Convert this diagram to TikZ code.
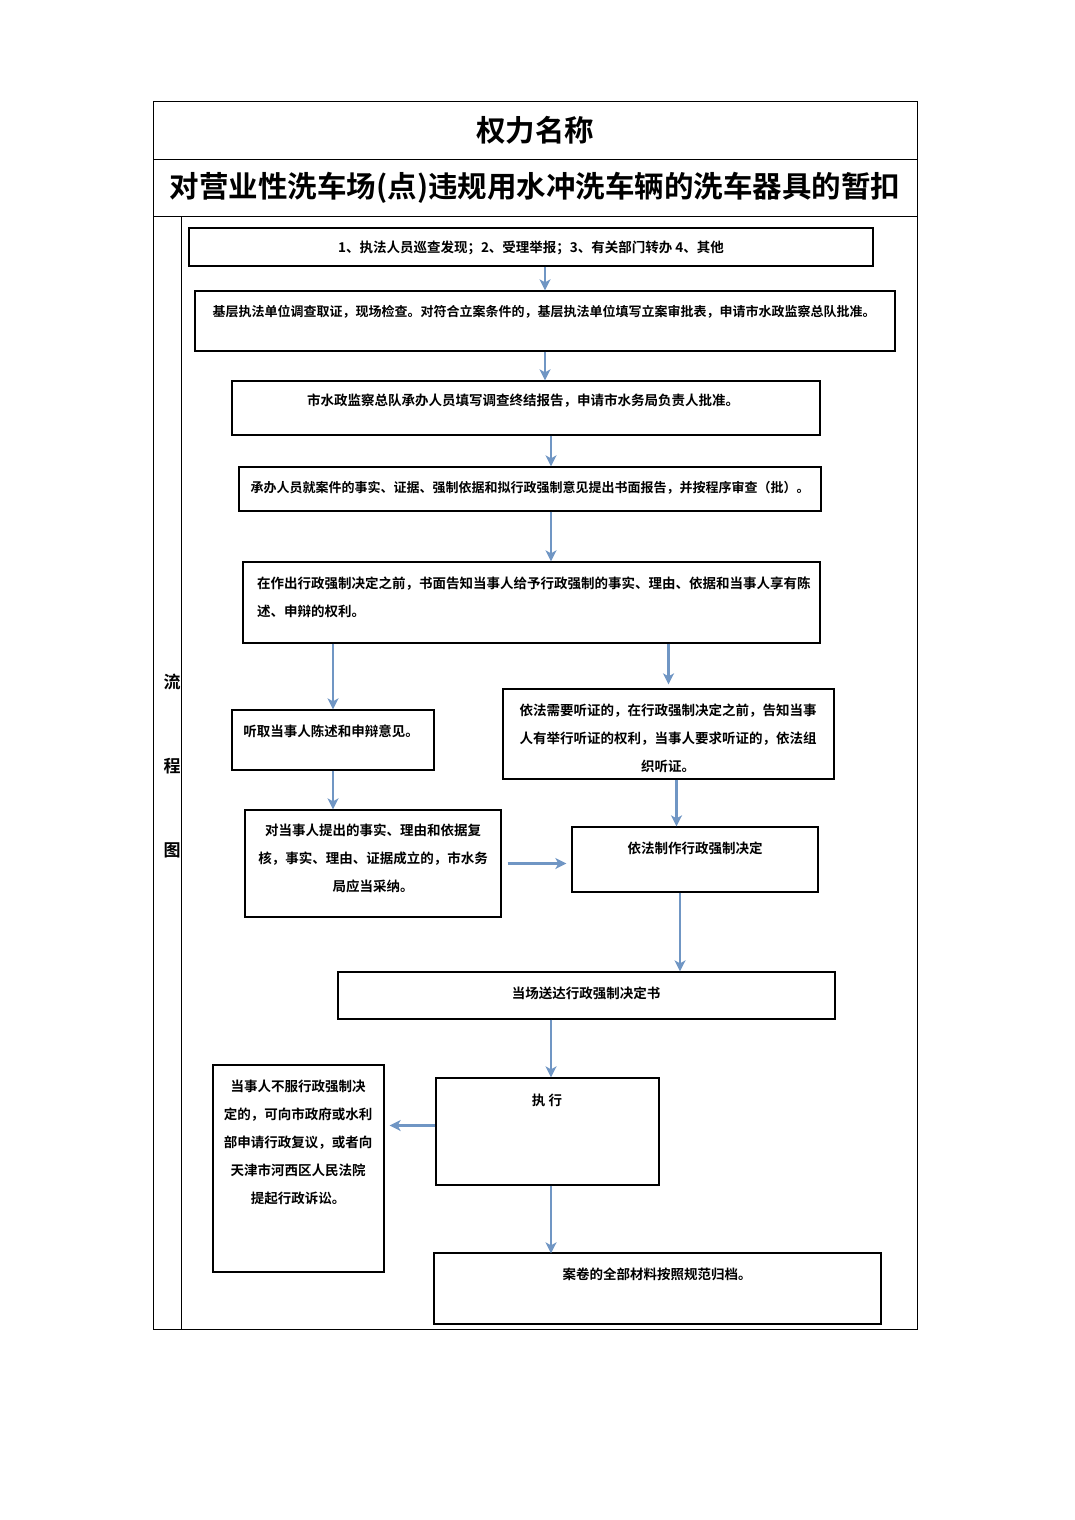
\documentclass[tikz,border=0pt]{standalone}
\usepackage{fontspec}
\setmainfont{Noto Sans CJK SC}[BoldFont={Noto Sans CJK SC Bold}]
\usetikzlibrary{arrows.meta}
\definecolor{flowblue}{RGB}{112,150,196}

\begin{document}
\begin{tikzpicture}[x=1pt, y=-1pt,
    >={Stealth[length=11pt, width=11pt, inset=3pt]},
    box/.style={draw, line width=1.3pt, inner sep=0pt},
    txt/.style={font=\bfseries\fontsize{13.5}{28}\selectfont, inner sep=0pt, align=center},
    small/.style={font=\bfseries\fontsize{13}{28}\selectfont},
    head/.style={font=\bfseries\fontsize{29.5}{34}\selectfont, inner sep=0pt},
    side/.style={font=\bfseries\fontsize{17}{20}\selectfont, inner sep=0pt},
    flow/.style={->, color=flowblue, line width=2.7pt}]
    \useasboundingbox (0,0) rectangle (1075,1520);
    \newcommand\kMid{551}
    \newcommand\kGap{84}
    % table frame
    \draw[line width=1pt] (153,101) rectangle (917,1329);
    \draw[line width=1pt]
      (153,159) -- (917,159)
      (153,216) -- (917,216)
      (181,216) -- (181,1329);
    \node[head] (name) at (535,130) {权力名称};
    \node[head] (title) at (535,188) {对营业性洗车场(点)违规用水冲洗车辆的洗车器具的暂扣};
    \foreach \c [count=\i] in {流,程,图} {
      \node[side] (side\i) at (172, {598 + \kGap * \i}) {\c};
    }
    % boxes
    \node[box, minimum width=684pt, minimum height=38pt] (a) at (531,247) {};
    \node[txt] (at) at (531,248) {1、执法人员巡查发现；2、受理举报；3、有关部门转办 4、其他};
    \node[box, minimum width=700pt, minimum height=60pt] (b) at (545,321) {};
    \node[txt, small] (bt) at (544,312)
      {基层执法单位调查取证，现场检查。对符合立案条件的，基层执法单位填写立案审批表，申请市水政监察总队批准。};
    \node[box, minimum width=588pt, minimum height=54pt] (c) at (526,408) {};
    \node[txt] (ct) at (523,401) {市水政监察总队承办人员填写调查终结报告，申请市水务局负责人批准。};
    \node[box, minimum width=582pt, minimum height=44pt] (d) at (530,489) {};
    \node[txt, small] (dt) at (530,488)
      {承办人员就案件的事实、证据、强制依据和拟行政强制意见提出书面报告，并按程序审查（批）。};
    \node[box, minimum width=577pt, minimum height=81pt] (e) at (531.5,602.5) {};
    \node[txt, align=left, anchor=west] (et) at (257,597)
      {在作出行政强制决定之前，书面告知当事人给予行政强制的事实、理由、依据和当事人享有陈\\
       述、申辩的权利。};
    \node[box, minimum width=202pt, minimum height=60pt] (f) at (333,740) {};
    \node[txt] (ft) at (331,731) {听取当事人陈述和申辩意见。};
    \node[box, minimum width=331pt, minimum height=90pt] (g) at (668.5,734) {};
    \node[txt] (gt) at (668,738)
      {依法需要听证的，在行政强制决定之前，告知当事\\
       人有举行听证的权利，当事人要求听证的，依法组\\
       织听证。};
    \node[box, minimum width=256pt, minimum height=107pt] (h) at (373,863.5) {};
    \node[txt] (ht) at (373,858)
      {对当事人提出的事实、理由和依据复\\
       核，事实、理由、证据成立的，市水务\\
       局应当采纳。};
    \node[box, minimum width=246pt, minimum height=65pt] (i) at (695,859.5) {};
    \node[txt] (it) at (695,848) {依法制作行政强制决定};
    \node[box, minimum width=497pt, minimum height=47pt] (j) at (586.5,995.5) {};
    \node[txt] (jt) at (586,993) {当场送达行政强制决定书};
    \node[box, minimum width=171pt, minimum height=207pt] (k) at (298.5,1168.5) {};
    \node[txt] (kt) at (298,1142.5)
      {当事人不服行政强制决\\
       定的，可向市政府或水利\\
       部申请行政复议，或者向\\
       天津市河西区人民法院\\
       提起行政诉讼。};
    \node[box, minimum width=223pt, minimum height=107pt] (l) at (547.5,1131.5) {};
    \node[txt] (lt) at (547,1100) {执\ 行};
    \node[box, minimum width=447pt, minimum height=71pt] (m) at (657.5,1288.5) {};
    \node[txt] (mt) at (657,1274) {案卷的全部材料按照规范归档。};
    % arrows
    \coordinate (col) at (\kMid,0);
    \coordinate (lk) at ([yshift=6pt]l.west);
    \draw[flow] (a.south -| b.north) -- (b.north);
    \draw[flow] (b.south) -- (b.south |- c.north);
    \draw[flow] (c.south -| col) -- (d.north -| col);
    \draw[flow] (d.south -| col) -- (e.north -| col);
    \draw[flow] (e.south -| f.north) -- (f.north);
    \draw[flow] (e.south -| g.north) -- ([yshift=4pt]g.north);
    \draw[flow] (f.south) -- (f.south |- h.north);
    \draw[flow] ([xshift=8pt]g.south) -- ([xshift=8pt]g.south |- i.north);
    \draw[flow] ([xshift=6pt]h.east) -- ([xshift=-5pt]i.west |- h.east);
    \draw[flow] ([xshift=-15pt]i.south) -- ([xshift=-15pt]i.south |- j.north);
    \draw[flow] (j.south -| col) -- (l.north -| col);
    \draw[flow] (lk) -- ([xshift=5pt]k.east |- lk);
    \draw[flow] (l.south -| col) -- ([yshift=-1pt]m.north -| col);
\end{tikzpicture}
\end{document}
